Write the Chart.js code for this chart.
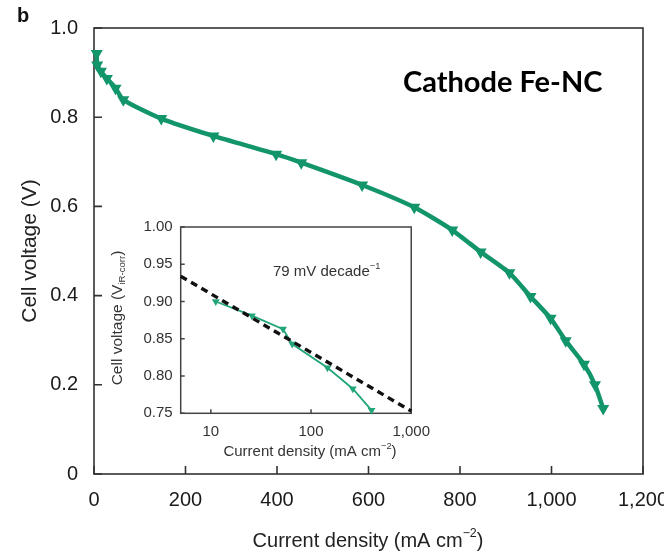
<!DOCTYPE html>
<html>
<head>
<meta charset="utf-8">
<script src="https://cdn.jsdelivr.net/npm/chart.js@4.4.1/dist/chart.umd.min.js"></script>
<style>
  html, body { margin: 0; padding: 0; background: #fff; overflow: hidden; }
  #wrap { position: relative; width: 664px; height: 555px; overflow: hidden; background: #fff; }
  #main { position: absolute; left: 0; top: 0; width: 700px; height: 555px; }
  #inset { position: absolute; left: 100px; top: 210px; width: 340px; height: 260px; }
</style>
</head>
<body>
<div id="wrap">
  <canvas id="main" width="700" height="555"></canvas>
  <canvas id="inset" width="340" height="260"></canvas>
</div>
<script>
// main polarisation curve (mA cm-2, V)
const mainCurrent = [6, 7, 15, 28, 47, 64, 147, 261, 398, 453, 586, 700, 783, 845, 908, 954, 998, 1031, 1071, 1095, 1113];
const mainVoltage = [0.943, 0.917, 0.903, 0.887, 0.865, 0.839, 0.797, 0.758, 0.717, 0.698, 0.648, 0.598, 0.547, 0.498, 0.451, 0.398, 0.349, 0.299, 0.246, 0.200, 0.147];
const mainXTicks = [0, 200, 400, 600, 800, 1000, 1200];
const mainYTicks = [0, 0.2, 0.4, 0.6, 0.8, 1.0];

// inset Tafel plot (iR-corrected)
const insetCurrent = [11.2, 25.7, 52.5, 64.9, 146, 261, 402];
const insetVoltage = [0.900, 0.881, 0.863, 0.843, 0.811, 0.783, 0.754];
const fitCurrent = [5, 1000];
const fitVoltage = [0.934, 0.753];
const insetXTicks = [10, 100, 1000];
const insetYTicks = [0.75, 0.80, 0.85, 0.90, 0.95, 1.00];

const GREEN = '#13956b';
const FONT = "'Liberation Sans', Arial, sans-serif";

function pts(xs, ys) { return xs.map((x, i) => ({ x: x, y: ys[i] })); }

// text with sub/superscript parts, centred on (x, y)
function richText(ctx, parts, x, y, size, color, align) {
  ctx.save();
  ctx.fillStyle = color;
  ctx.textBaseline = 'middle';
  ctx.textAlign = 'left';
  let w = 0;
  parts.forEach(p => {
    ctx.font = (p.s ? size * 0.62 : size) + 'px ' + FONT;
    w += ctx.measureText(p.t).width;
  });
  let cx = align === 'left' ? x : x - w / 2;
  parts.forEach(p => {
    ctx.font = (p.s ? size * 0.62 : size) + 'px ' + FONT;
    let dy = p.s === 'sup' ? -size * 0.38 : p.s === 'sub' ? size * 0.3 : 0;
    ctx.fillText(p.t, cx, y + dy);
    cx += ctx.measureText(p.t).width;
  });
  ctx.restore();
}

// box round the plot area and inward tick marks
const framePlugin = {
  id: 'frame',
  beforeDatasetsDraw(chart, args, opts) {
    const { ctx, chartArea: a, scales } = chart;
    ctx.save();
    ctx.strokeStyle = opts.color;
    ctx.lineWidth = opts.width;
    ctx.strokeRect(a.left, a.top, a.right - a.left, a.bottom - a.top);
    ctx.beginPath();
    scales.x.ticks.forEach(t => {
      const px = scales.x.getPixelForValue(t.value);
      ctx.moveTo(px, a.bottom);
      ctx.lineTo(px, a.bottom - opts.tick);
    });
    scales.y.ticks.forEach(t => {
      const py = scales.y.getPixelForValue(t.value);
      ctx.moveTo(a.left, py);
      ctx.lineTo(a.left + opts.tick, py);
    });
    ctx.stroke();
    ctx.restore();
  }
};

const mainText = {
  id: 'mainText',
  afterDraw(chart) {
    const ctx = chart.ctx;
    ctx.save();
    ctx.fillStyle = '#111';
    ctx.font = 'bold 20px ' + FONT;
    ctx.textBaseline = 'alphabetic';
    ctx.fillText('b', 17, 22);
    ctx.font = "bold 29px Lato, 'Open Sans', sans-serif";
    ctx.fillStyle = '#000';
    ctx.fillText('Cathode Fe-NC', 403, 92, 200);
    ctx.restore();
    richText(ctx, [{ t: 'Current density (mA cm' }, { t: '\u22122', s: 'sup' }, { t: ')' }],
      368, 541, 20, '#222');
  }
};

const insetText = {
  id: 'insetText',
  afterDraw(chart) {
    const ctx = chart.ctx;
    richText(ctx, [{ t: 'Current density (mA cm' }, { t: '\u22122', s: 'sup' }, { t: ')' }],
      210, 242, 15, '#333');
    richText(ctx, [{ t: '79 mV decade' }, { t: '\u22121', s: 'sup' }],
      173, 62, 15, '#333', 'left');
    ctx.save();
    ctx.translate(18, 108);
    ctx.rotate(-Math.PI / 2);
    richText(ctx, [{ t: 'Cell voltage (V' }, { t: 'iR-corr', s: 'sub' }, { t: ')' }],
      0, 0, 15.5, '#333');
    ctx.restore();
  }
};

new Chart(document.getElementById('main'), {
  type: 'scatter',
  data: {
    datasets: [{
      data: pts(mainCurrent, mainVoltage),
      showLine: true,
      borderColor: GREEN,
      backgroundColor: GREEN,
      borderWidth: 4.5,
      tension: 0.2,
      pointStyle: 'triangle',
      rotation: 180,
      pointRadius: 7,
      pointBorderWidth: 0,
      clip: false
    }]
  },
  options: {
    responsive: false,
    animation: false,
    layout: { padding: { top: 28, right: 57, left: 0, bottom: 0 } },
    plugins: {
      legend: { display: false },
      tooltip: { enabled: false },
      frame: { color: '#333', width: 1.6, tick: 8 }
    },
    scales: {
      x: {
        type: 'linear', min: 0, max: 1200,
        afterBuildTicks: s => { s.ticks = mainXTicks.map(v => ({ value: v })); },
        afterFit: s => { s.height = 81; },
        grid: { display: false, drawTicks: false },
        border: { display: false },
        ticks: {
          padding: 14,
          color: '#1a1a1a',
          font: { family: FONT, size: 20 },
          callback: v => v.toLocaleString('en-US')
        }
      },
      y: {
        type: 'linear', min: 0, max: 1,
        afterBuildTicks: s => { s.ticks = mainYTicks.map(v => ({ value: v })); },
        afterFit: s => { s.width = 94; },
        grid: { display: false, drawTicks: false },
        border: { display: false },
        title: {
          display: true,
          text: 'Cell voltage (V)',
          color: '#222',
          font: { family: FONT, size: 21 },
          padding: { top: 18, bottom: 0 }
        },
        ticks: {
          padding: 16,
          color: '#1a1a1a',
          font: { family: FONT, size: 20 },
          callback: v => v === 0 ? '0' : v.toFixed(1)
        }
      }
    }
  },
  plugins: [framePlugin, mainText]
});

new Chart(document.getElementById('inset'), {
  type: 'scatter',
  data: {
    datasets: [{
      data: pts(fitCurrent, fitVoltage),
      showLine: true,
      borderColor: '#111',
      borderWidth: 3.4,
      borderDash: [7, 5],
      pointRadius: 0,
      clip: false
    }, {
      data: pts(insetCurrent, insetVoltage),
      showLine: true,
      borderColor: '#22a57a',
      backgroundColor: '#22a57a',
      borderWidth: 1.8,
      pointStyle: 'triangle',
      rotation: 180,
      pointRadius: 4.5,
      pointBorderWidth: 0,
      clip: false
    }]
  },
  options: {
    responsive: false,
    animation: false,
    layout: { padding: { top: 14, right: 26, left: 0, bottom: 0 } },
    plugins: {
      legend: { display: false },
      tooltip: { enabled: false },
      frame: { color: '#444', width: 1.5, tick: 4 }
    },
    scales: {
      x: {
        type: 'logarithmic', min: 5, max: 1000,
        afterBuildTicks: s => { s.ticks = insetXTicks.map(v => ({ value: v })); },
        afterFit: s => { s.height = 56.7; },
        grid: { display: false, drawTicks: false },
        border: { display: false },
        ticks: {
          padding: 10,
          color: '#333',
          font: { family: FONT, size: 15 },
          callback: v => v.toLocaleString('en-US')
        }
      },
      y: {
        type: 'linear', min: 0.75, max: 1.0,
        afterBuildTicks: s => { s.ticks = insetYTicks.map(v => ({ value: v })); },
        afterFit: s => { s.width = 80.7; },
        grid: { display: false, drawTicks: false },
        border: { display: false },
        ticks: {
          padding: 8,
          color: '#333',
          font: { family: FONT, size: 15 },
          callback: v => v.toFixed(2)
        }
      }
    }
  },
  plugins: [framePlugin, insetText]
});
</script>
</body>
</html>
